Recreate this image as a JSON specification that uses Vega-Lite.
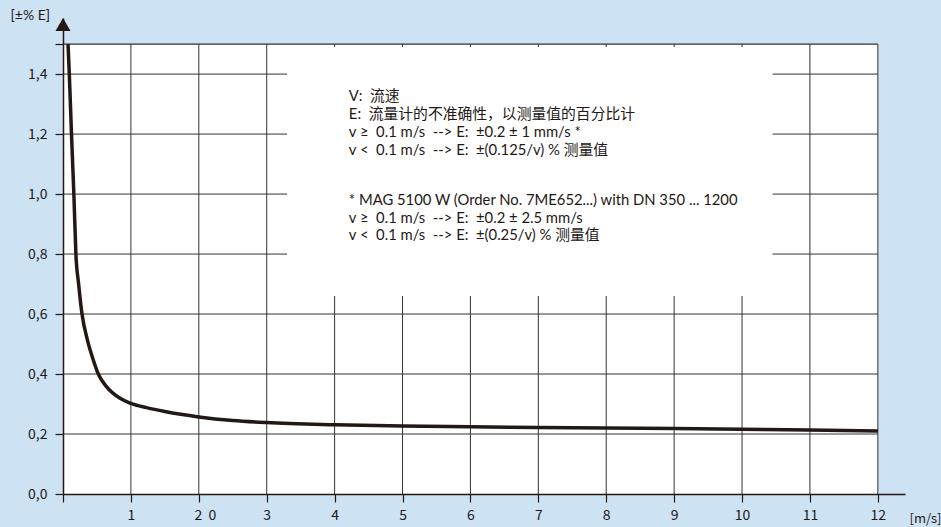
{
  "$schema": "https://vega.github.io/schema/vega-lite/v6.json",
  "width": 842,
  "height": 476,
  "autosize": "none",
  "padding": {"left": 63, "top": 18, "right": 36, "bottom": 33},
  "background": "#cde3f4",
  "config": {"view": {"stroke": null}, "font": "Noto Sans CJK SC"},
  "datasets": {
    "curve": [
      {"v": 0.074, "e": 1.5},
      {"v": 0.093, "e": 1.4},
      {"v": 0.125, "e": 1.2},
      {"v": 0.16, "e": 1.0},
      {"v": 0.19, "e": 0.8},
      {"v": 0.23, "e": 0.7},
      {"v": 0.28, "e": 0.6},
      {"v": 0.36, "e": 0.513},
      {"v": 0.446, "e": 0.447},
      {"v": 0.52, "e": 0.4},
      {"v": 0.64, "e": 0.358},
      {"v": 0.84, "e": 0.319},
      {"v": 1.0, "e": 0.302},
      {"v": 1.23, "e": 0.288},
      {"v": 1.5, "e": 0.275},
      {"v": 2.0, "e": 0.257},
      {"v": 2.5, "e": 0.245},
      {"v": 3.0, "e": 0.238},
      {"v": 4.0, "e": 0.231},
      {"v": 5.0, "e": 0.227},
      {"v": 6.0, "e": 0.224},
      {"v": 7.0, "e": 0.222},
      {"v": 8.0, "e": 0.22},
      {"v": 9.0, "e": 0.218},
      {"v": 10.0, "e": 0.216},
      {"v": 11.0, "e": 0.213},
      {"v": 12.0, "e": 0.21}
    ],
    "vgrid": [{"g": 1}, {"g": 2}, {"g": 3}, {"g": 4}, {"g": 5}, {"g": 6}, {"g": 7}, {"g": 8}, {"g": 9}, {"g": 10}, {"g": 11}, {"g": 12}],
    "hgrid": [{"g": 0.2}, {"g": 0.4}, {"g": 0.6}, {"g": 0.8}, {"g": 1.0}, {"g": 1.2}, {"g": 1.4}]
  },
  "layer": [
    {
      "data": {"values": [{}]},
      "mark": {"type": "rect", "fill": "white"},
      "encoding": {
        "x": {"datum": 0, "type": "quantitative", "scale": {"domain": [0, 12.4], "nice": false, "zero": false},
          "axis": {
            "values": [0, 1, 2, 3, 4, 5, 6, 7, 8, 9, 10, 11, 12],
            "labelExpr": "datum.value == 0 ? '' : (datum.value == 2 ? '2\u00a0\u00a00' : format(datum.value, 'd'))",
            "labelOffset": {"condition": {"test": "datum.value == 2", "value": 6}, "value": 0},
            "grid": false, "tickSize": 8, "tickWidth": 1.2, "tickColor": "#231815",
            "domainColor": "#231815", "domainWidth": 1.5,
            "labelFontSize": 14, "labelColor": "#231815", "labelPadding": 6,
            "labelFlush": false, "labelOverlap": false,
            "title": "[m/s]", "titleX": 846, "titleY": 24, "titleAlign": "left", "titleBaseline": "middle",
            "titleFontWeight": "normal", "titleFontSize": 13, "titleColor": "#231815", "zindex": 1
          }},
        "x2": {"datum": 12},
        "y": {"datum": 0, "type": "quantitative", "scale": {"domain": [0, 1.587], "nice": false, "zero": false},
          "axis": {
            "values": [0, 0.2, 0.4, 0.6, 0.8, 1.0, 1.2, 1.4, 1.5],
            "labelExpr": "datum.value > 1.45 ? '' : replace(format(datum.value, '.1f'), '.', ',')",
            "grid": false, "tickSize": 8, "tickWidth": 1.2, "tickColor": "#231815",
            "domainColor": "#231815", "domainWidth": 1.5,
            "labelFontSize": 14, "labelColor": "#231815", "labelPadding": 8,
            "labelFlush": false, "labelOverlap": false,
            "title": "[±% E]", "titleFont": "Lato", "titleAngle": 0, "titleX": -53, "titleY": -3, "titleAlign": "left", "titleBaseline": "middle",
            "titleFontWeight": "normal", "titleFontSize": 14, "titleColor": "#231815", "zindex": 1
          }},
        "y2": {"datum": 1.5}
      }
    },
    {
      "data": {"name": "vgrid"},
      "mark": {"type": "rule", "color": "#333333", "strokeWidth": 1},
      "encoding": {
        "x": {"field": "g", "type": "quantitative"},
        "y": {"datum": 0},
        "y2": {"datum": 1.5}
      }
    },
    {
      "data": {"name": "hgrid"},
      "mark": {"type": "rule", "color": "#333333", "strokeWidth": 1},
      "encoding": {
        "y": {"field": "g", "type": "quantitative"},
        "x": {"datum": 0},
        "x2": {"datum": 12}
      }
    },
    {
      "data": {"values": [{}]},
      "mark": {"type": "rect", "fill": "white"},
      "encoding": {
        "x": {"datum": 3.3},
        "x2": {"datum": 10.45},
        "y": {"datum": 0.66},
        "y2": {"datum": 1.49}
      }
    },
    {
      "data": {"values": [{}]},
      "mark": {"type": "rule", "color": "#333333", "strokeWidth": 1.2},
      "encoding": {
        "y": {"datum": 1.5},
        "x": {"datum": 0},
        "x2": {"datum": 12}
      }
    },
    {
      "data": {"name": "curve"},
      "mark": {"type": "line", "color": "#231815", "strokeWidth": 3.5, "interpolate": "monotone"},
      "encoding": {
        "x": {"field": "v", "type": "quantitative"},
        "y": {"field": "e", "type": "quantitative"}
      }
    },
    {
      "data": {"values": [{}]},
      "mark": {"type": "point", "shape": "triangle-up", "filled": true, "color": "#231815", "size": 225, "opacity": 1},
      "encoding": {
        "x": {"datum": 0},
        "y": {"datum": 1.565}
      }
    },
    {
      "data": {"values": [{}]},
      "mark": {
        "type": "text", "font": "Lato, Noto Sans CJK SC", "align": "left", "baseline": "alphabetic", "fontSize": 14.8, "lineHeight": 18, "color": "#231815",
        "text": ["V:\u00a0\u00a0流速", "E:\u00a0\u00a0流量计的不准确性，以测量值的百分比计", "v ≥\u00a0\u00a00.1 m/s\u00a0\u00a0--> E:\u00a0\u00a0±0.2 ± 1 mm/s *", "v <\u00a0\u00a00.1 m/s\u00a0\u00a0--> E:\u00a0\u00a0±(0.125/v) % 测量值"]
      },
      "encoding": {
        "x": {"datum": 4.21},
        "y": {"datum": 1.31}
      }
    },
    {
      "data": {"values": [{}]},
      "mark": {
        "type": "text", "font": "Lato, Noto Sans CJK SC", "align": "left", "baseline": "alphabetic", "fontSize": 14.8, "lineHeight": 17.5, "color": "#231815",
        "text": ["* MAG 5100 W (Order No. 7ME652...) with DN 350 ... 1200", "v ≥\u00a0\u00a00.1 m/s\u00a0\u00a0--> E:\u00a0\u00a0±0.2 ± 2.5 mm/s", "v <\u00a0\u00a00.1 m/s\u00a0\u00a0--> E:\u00a0\u00a0±(0.25/v) % 测量值"]
      },
      "encoding": {
        "x": {"datum": 4.21},
        "y": {"datum": 0.963}
      }
    }
  ]
}
